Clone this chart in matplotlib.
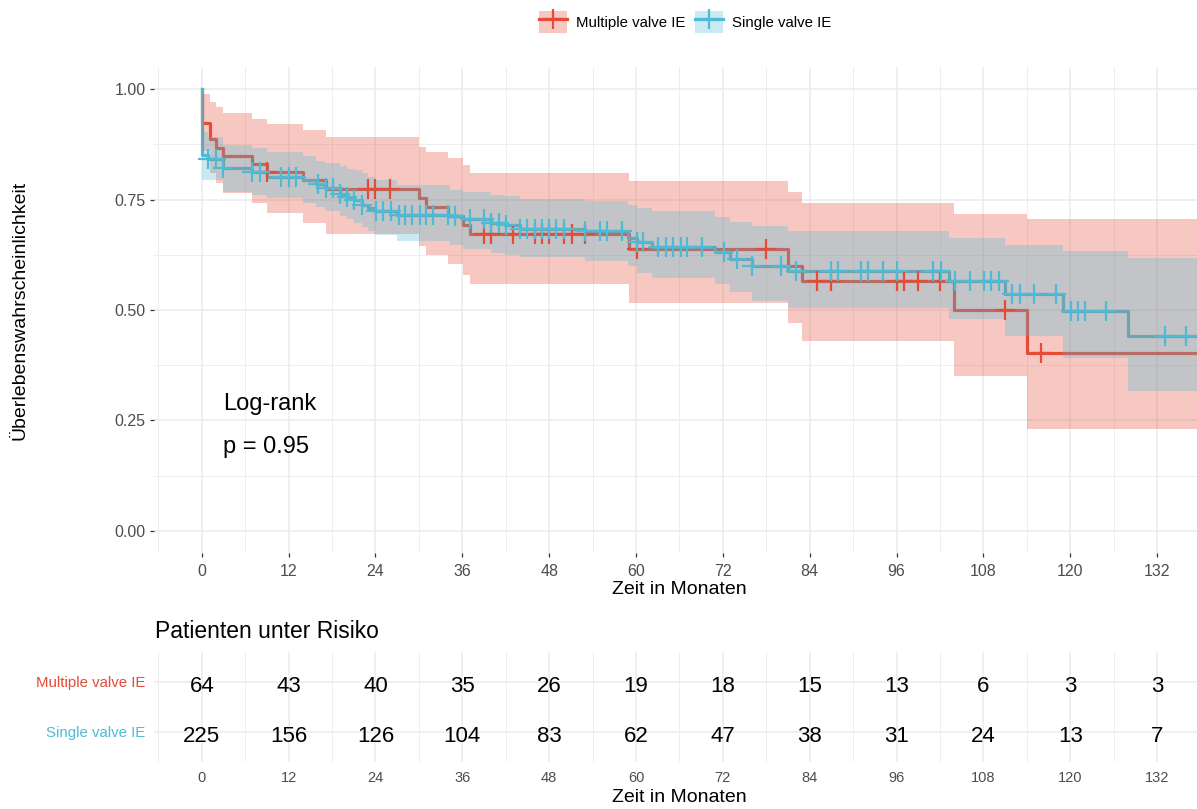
import numpy as np
import matplotlib.pyplot as plt
from matplotlib.patches import Patch
from matplotlib.lines import Line2D

plt.rcParams['font.family'] = ['Liberation Sans', 'DejaVu Sans']

# Kaplan-Meier estimates (months, survival after each drop)
red_time = [0, 1.1, 1.9, 2.95, 7.0, 9.0, 14.0, 17.1, 30.0, 31.0, 34.0, 36.1, 37.0,
            59.0, 81.0, 83.0, 104.0, 114.0]
red_surv = [0.924, 0.886, 0.867, 0.849, 0.831, 0.813, 0.795, 0.775, 0.754, 0.734,
            0.713, 0.693, 0.673, 0.638, 0.600, 0.565, 0.501, 0.403]
red_upper = [0.99, 0.971, 0.96, 0.945, 0.932, 0.921, 0.907, 0.891, 0.870, 0.858,
             0.845, 0.828, 0.811, 0.791, 0.766, 0.742, 0.718, 0.706]
red_lower = [0.86, 0.81, 0.787, 0.765, 0.742, 0.719, 0.697, 0.673, 0.645, 0.625,
             0.605, 0.58, 0.558, 0.516, 0.471, 0.43, 0.351, 0.23]
red_cens = [9.0, 23.0, 24.0, 26.0, 39.0, 40.0, 43.0, 46.0, 47.0, 48.0, 50.0, 51.1,
            53.0, 60.1, 78.0, 85.0, 87.0, 96.0, 97.0, 99.0, 102.0, 111.0, 116.0]

blue_time = [0, 0.9, 2.95, 7.0, 9.0, 14.0, 15.8, 17.0, 19.1, 20.0, 21.1, 22.1, 23.0,
             24.0, 27.0, 34.3, 36.1, 40.0, 41.9, 44.0, 52.9, 58.9, 60.1, 62.2, 70.9,
             73.0, 76.0, 81.0, 103.2, 111.0, 119.0, 128.0]
blue_surv = [0.851, 0.842, 0.821, 0.813, 0.802, 0.795, 0.785, 0.776, 0.763, 0.756,
             0.749, 0.738, 0.730, 0.725, 0.716, 0.712, 0.706, 0.697, 0.693, 0.684,
             0.678, 0.663, 0.653, 0.643, 0.631, 0.616, 0.600, 0.588, 0.565, 0.537,
             0.497, 0.442]
blue_upper = [0.904, 0.892, 0.874, 0.866, 0.858, 0.849, 0.838, 0.832, 0.825, 0.82,
              0.817, 0.81, 0.802, 0.795, 0.784, 0.772, 0.768, 0.761, 0.757, 0.751,
              0.746, 0.738, 0.731, 0.723, 0.71, 0.70, 0.689, 0.678, 0.663, 0.648,
              0.633, 0.618]
blue_lower = [0.795, 0.795, 0.768, 0.761, 0.753, 0.742, 0.734, 0.723, 0.712, 0.705,
              0.697, 0.688, 0.678, 0.670, 0.656, 0.648, 0.638, 0.629, 0.625, 0.621,
              0.61, 0.599, 0.584, 0.573, 0.558, 0.540, 0.52, 0.505, 0.479, 0.441,
              0.392, 0.317]
blue_cens = [0.9, 1.9, 2.95, 7.0, 8.0, 11.0, 12.0, 13.0, 16.1, 17.1, 18.1, 19.1, 20.0,
             21.1, 22.1, 24.1, 25.1, 26.1, 27.2, 28.1, 29.0, 30.1, 31.0, 32.0, 34.0,
             35.0, 37.0, 39.0, 40.0, 41.1, 42.0, 44.0, 45.0, 46.0, 47.0, 48.0, 49.0,
             50.0, 53.0, 55.0, 56.0, 58.0, 60.1, 61.0, 63.1, 64.1, 65.1, 66.2, 67.1,
             69.1, 72.1, 74.0, 76.0, 80.0, 82.1, 87.0, 87.9, 91.1, 92.0, 94.1, 96.0,
             101.1, 102.1, 104.1, 106.1, 108.1, 109.1, 110.1, 112.0, 113.1, 115.0,
             118.0, 120.1, 121.1, 122.0, 125.0, 133.1, 136.0]
last_followup = 139

risk_times = [0, 12, 24, 36, 48, 60, 72, 84, 96, 108, 120, 132]
risk_multi = [64, 43, 40, 35, 26, 19, 18, 15, 13, 6, 3, 3]
risk_single = [225, 156, 126, 104, 83, 62, 47, 38, 31, 24, 13, 7]

groups = ['Multiple valve IE', 'Single valve IE']
colors = ['#E64B35', '#4DBBD5']

W, H = 1197, 809
fig = plt.figure(figsize=(W / 100, H / 100), dpi=100)


def px(x0, y0, x1, y1):
    return [x0 / W, 1 - y1 / H, (x1 - x0) / W, (y1 - y0) / H]


ax = fig.add_axes(px(154, 67, 1204.8, 553))
tab = fig.add_axes(px(154, 651.7, 1204.8, 761.7))
xlim = (-6.6, 138.6)


def km(ax, t, s, lo, hi, cens, color):
    tt = np.r_[0, t, last_followup]
    ss = np.r_[1.0, s, s[-1]]
    ax.step(tt, ss, where='post', color=color, lw=2.3, zorder=2)
    ax.fill_between(tt, np.r_[1.0, lo, lo[-1]], np.r_[1.0, hi, hi[-1]], step='post',
                    color=color, alpha=0.3, lw=0, zorder=3)
    idx = np.searchsorted(t, cens, side='right') - 1
    ax.plot(cens, np.asarray(s)[idx], '+', color=color, ms=14, mew=1.6, zorder=4)


km(ax, red_time, red_surv, red_lower, red_upper, red_cens, colors[0])
km(ax, blue_time, blue_surv, blue_lower, blue_upper, blue_cens, colors[1])

ax.set_xlim(*xlim)
ax.set_ylim(-0.05, 1.05)
ax.set_xticks(risk_times)
ax.set_xticks(np.arange(-6, 139, 12), minor=True)
ax.set_yticks([0, 0.25, 0.5, 0.75, 1.0])
ax.set_yticklabels(['0.00', '0.25', '0.50', '0.75', '1.00'])
ax.set_yticks([0.125, 0.375, 0.625, 0.875], minor=True)
ax.grid(which='major', color='#EBEBEB', lw=1.1)
ax.grid(which='minor', color='#EBEBEB', lw=0.6)
ax.set_axisbelow(True)
for sp in ax.spines.values():
    sp.set_visible(False)
ax.tick_params(which='major', length=3, width=0.9, color='#333333',
               labelcolor='#4D4D4D', labelsize=11.5, pad=3)
ax.tick_params(axis='x', pad=5)
ax.tick_params(which='minor', length=0)

ax.text(2.9, 0.287, 'Log-rank', fontsize=17, va='center')
ax.text(2.9, 0.19, 'p = 0.95', fontsize=17, va='center')

fig.text(20 / W, 1 - 310 / H, 'Überlebenswahrscheinlichkeit', rotation=90,
         ha='center', va='center', fontsize=14)
fig.text(679 / W, 1 - 590 / H, 'Zeit in Monaten', ha='center', va='center', fontsize=14)

# risk table
tab.set_xlim(*xlim)
tab.set_ylim(0.4, 2.6)
tab.set_xticks(risk_times)
tab.set_xticks(np.arange(-6, 139, 12), minor=True)
tab.set_yticks([1, 2])
tab.set_yticklabels([groups[1], groups[0]])
for lab, c in zip(tab.get_yticklabels(), [colors[1], colors[0]]):
    lab.set_color(c)
tab.grid(which='major', color='#EBEBEB', lw=1.1)
tab.grid(which='minor', axis='x', color='#EBEBEB', lw=0.6)
tab.set_axisbelow(True)
for sp in tab.spines.values():
    sp.set_visible(False)
tab.tick_params(axis='x', length=0, labelcolor='#4D4D4D', labelsize=10.5, pad=7)
tab.tick_params(axis='y', length=0, labelsize=10.8, pad=6)
tab.tick_params(which='minor', length=0)
for t, m, s in zip(risk_times, risk_multi, risk_single):
    tab.text(t, 1.9, str(m), ha='center', va='center', fontsize=16)
    tab.text(t, 0.9, str(s), ha='center', va='center', fontsize=16)

fig.text(155 / W, 1 - 631 / H, 'Patienten unter Risiko', ha='left', va='center',
         fontsize=16.5)
fig.text(679 / W, 1 - 797 / H, 'Zeit in Monaten', ha='center', va='center', fontsize=14)

handles = [(Patch(facecolor=c, alpha=0.3, lw=0),
            Line2D([], [], color=c, lw=2.3, marker='+', ms=14, mew=1.6))
           for c in colors]
fig.legend(handles, groups, loc='center', bbox_to_anchor=(685 / W, 1 - 22 / H),
           ncol=2, frameon=False, fontsize=10.8, handlelength=1.9, handleheight=1.9,
           handletextpad=0.6, columnspacing=0.6)

fig.savefig('out.png', dpi=100)
